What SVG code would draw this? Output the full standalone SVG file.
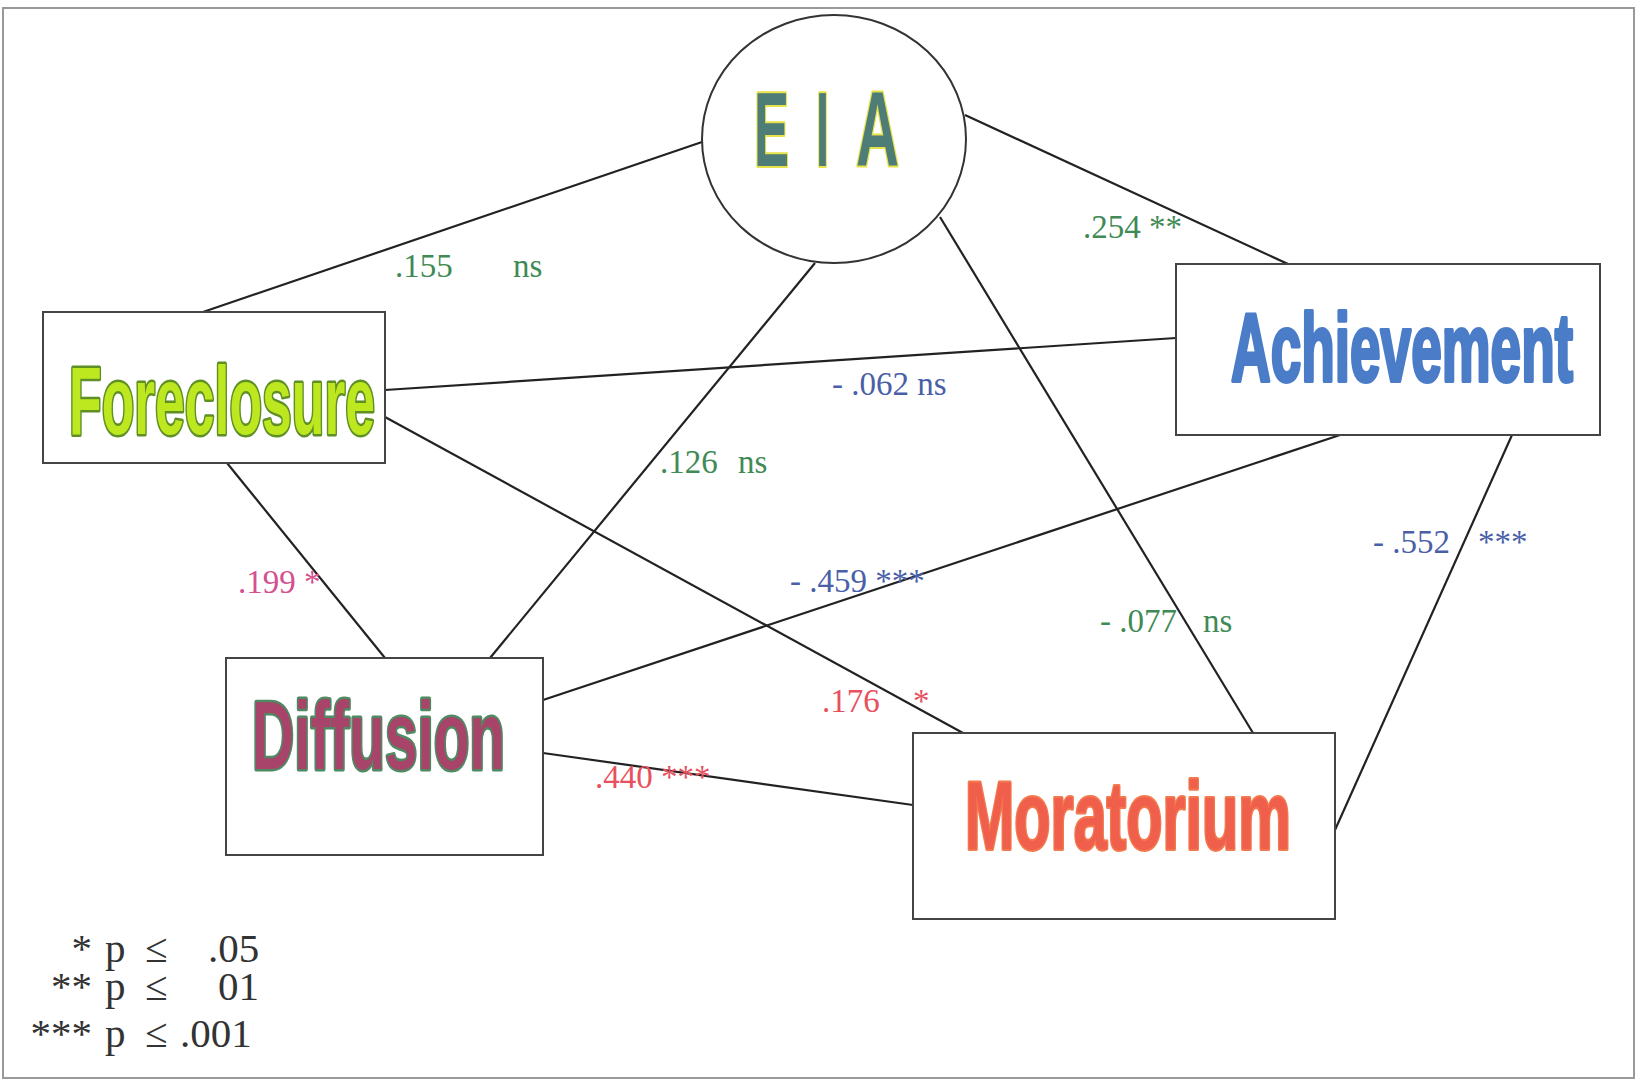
<svg xmlns="http://www.w3.org/2000/svg" width="1639" height="1081" viewBox="0 0 1639 1081">
<style>
.box{fill:#fff;stroke:#444;stroke-width:2}
.conn line{stroke:#222;stroke-width:2.2}
.lbl{font-family:"Liberation Serif",serif;font-size:33px}
.big{font-family:"Liberation Sans",Arial,sans-serif;font-weight:bold;font-size:96px;paint-order:stroke;stroke-linejoin:round}
.g{fill:#3f8a55}.b{fill:#4a5fa8}.r{fill:#e8505e}.m{fill:#d4508e}
.leg{font-family:"Liberation Serif",serif;font-size:41px;fill:#333}
</style>
<rect x="0" y="0" width="1639" height="1081" fill="#fff"/>
<rect x="3" y="8" width="1631" height="1070" fill="none" stroke="#999" stroke-width="2"/>
<g id="connectors" class="conn">
<line x1="702" y1="142" x2="203" y2="312"/>
<line x1="965" y1="115" x2="1288" y2="264"/>
<line x1="815" y1="263" x2="490" y2="658"/>
<line x1="940" y1="217" x2="1253" y2="733"/>
<line x1="385" y1="390" x2="1176" y2="338"/>
<line x1="385" y1="417" x2="963" y2="733"/>
<line x1="227" y1="463" x2="385" y2="658"/>
<line x1="1340" y1="435" x2="543" y2="700"/>
<line x1="1512" y1="435" x2="1335" y2="830"/>
<line x1="543" y1="753" x2="913" y2="805"/>
</g>
<g id="EIA">
<ellipse cx="834" cy="139" rx="132" ry="124" fill="#fff" stroke="#333" stroke-width="2"/>
<g class="big" style="font-size:105px;fill:#4e7d78;stroke:#e6e24a;stroke-width:4">
<text x="754" y="166" textLength="35" lengthAdjust="spacingAndGlyphs">E</text>
<text x="816" y="166" textLength="13" lengthAdjust="spacingAndGlyphs">I</text>
<text x="856" y="166" textLength="43" lengthAdjust="spacingAndGlyphs">A</text>
</g>
</g>
<g id="Foreclosure">
<rect class="box" x="43" y="312" width="342" height="151"/>
<text class="big" x="69" y="434" textLength="306" lengthAdjust="spacingAndGlyphs" style="fill:#bde820;stroke:#5f8f25;stroke-width:5">Foreclosure</text>
</g>
<g id="Achievement">
<rect class="box" x="1176" y="264" width="424" height="171"/>
<text class="big" x="1231" y="381" textLength="342" lengthAdjust="spacingAndGlyphs" style="fill:#4a7cc8;stroke:#4a7cc8;stroke-width:4">Achievement</text>
</g>
<g id="Diffusion">
<rect class="box" x="226" y="658" width="317" height="197"/>
<text class="big" x="252" y="769" textLength="253" lengthAdjust="spacingAndGlyphs" style="fill:#a8446a;stroke:#4f8a62;stroke-width:5">Diffusion</text>
</g>
<g id="Moratorium">
<rect class="box" x="913" y="733" width="422" height="186"/>
<text class="big" x="965" y="849" textLength="326" lengthAdjust="spacingAndGlyphs" style="fill:#f05f4c;stroke:#f27a4e;stroke-width:4">Moratorium</text>
</g>
<g id="labels" class="lbl">
<text class="g" x="395" y="277">.155</text><text class="g" x="513" y="277">ns</text>
<text class="g" x="660" y="473">.126</text><text class="g" x="738" y="473">ns</text>
<text class="b" x="832" y="395">- .062 ns</text>
<text class="g" x="1083" y="238">.254 **</text>
<text class="b" x="1373" y="553">- .552</text><text class="b" x="1478" y="553">***</text>
<text class="g" x="1100" y="632">- .077</text><text class="g" x="1203" y="632">ns</text>
<text class="b" x="790" y="592">- .459 ***</text>
<text class="r" x="822" y="712">.176</text><text class="r" x="913" y="712">*</text>
<text class="r" x="595" y="788">.440 ***</text>
<text class="m" x="238" y="593">.199 *</text>
</g>
<g id="legend" class="leg">
<text x="92" y="962" text-anchor="end">*</text><text x="105" y="962">p</text><text x="145" y="962">≤</text><text x="208" y="962">.05</text>
<text x="92" y="1000" text-anchor="end">**</text><text x="105" y="1000">p</text><text x="145" y="1000">≤</text><text x="218" y="1000">01</text>
<text x="92" y="1047" text-anchor="end">***</text><text x="105" y="1047">p</text><text x="145" y="1047">≤</text><text x="180" y="1047">.001</text>
</g>
</svg>
